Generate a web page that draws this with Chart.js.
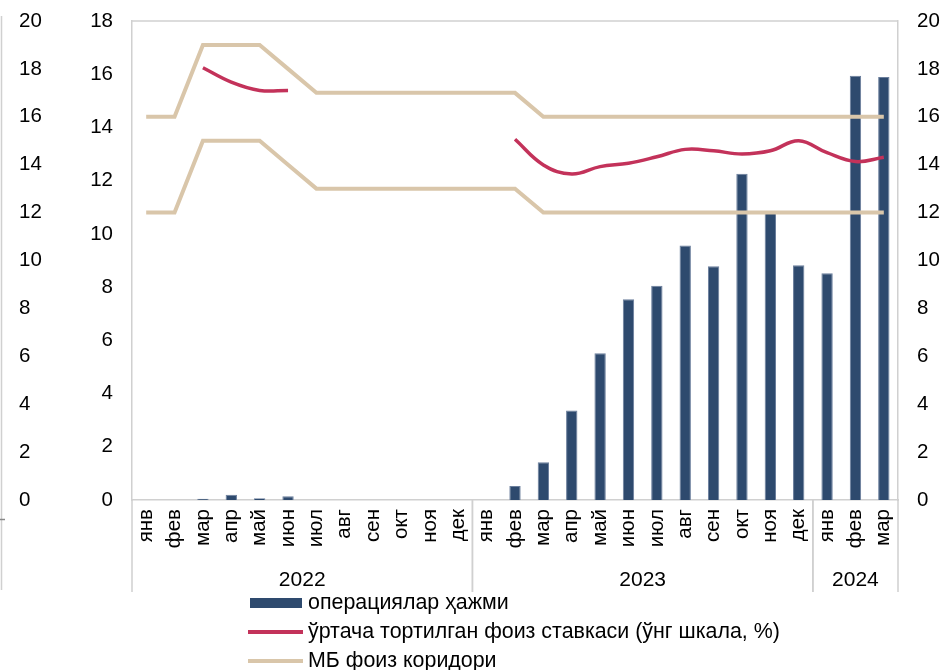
<!DOCTYPE html>
<html>
<head>
<meta charset="utf-8">
<script src="https://cdn.jsdelivr.net/npm/chart.js@4.4.1/dist/chart.umd.min.js"></script>
<style>
  body { margin: 0; background: #fff; font-family: 'Liberation Sans', Arial, sans-serif; }
  #wrap { position: relative; width: 944px; height: 670px; overflow: hidden; }
  #legend { position: absolute; left: 248px; top: 588px; }
  .item { display: flex; align-items: center; height: 29px; font-size: 21.4px; color: #000; white-space: nowrap; }
  .swatch { width: 55px; margin-right: 5px; }
</style>
</head>
<body>
<div id="wrap">
  <canvas id="chart"></canvas>
  <div id="legend">
    <div class="item"><span class="swatch" style="height:10px;background:#2e4a6e;width:52px;margin-left:2px;margin-right:6px"></span>операциялар ҳажми</div>
    <div class="item"><span class="swatch" style="height:4px;background:#c3325a"></span>ўртача тортилган фоиз ставкаси (ўнг шкала, %)</div>
    <div class="item"><span class="swatch" style="height:4px;background:#d9c6aa"></span>МБ фоиз коридори</div>
  </div>
</div>
<script>
const months = [
  'янв', 'фев', 'мар', 'апр', 'май', 'июн', 'июл', 'авг', 'сен', 'окт', 'ноя', 'дек',
  'янв', 'фев', 'мар', 'апр', 'май', 'июн', 'июл', 'авг', 'сен', 'окт', 'ноя', 'дек',
  'янв', 'фев', 'мар'
];
const years = ['2022', '2023', '2024'];
const yearMonths = [12, 12, 3];

// операциялар ҳажми (left scale)
const volume = [
  null, null, 0.05, 0.2, 0.07, 0.14, null, null, null, null, null, null,
  null, 0.53, 1.42, 3.36, 5.51, 7.54, 8.05, 9.56, 8.78, 12.26, 10.79, 8.82,
  8.52, 15.94, 15.9
];
// weighted average rate (right scale)
const avgRate = [
  null, null, 18.05, 17.45, 17.1, 17.1, null, null, null, null, null, null,
  null, 15.06, 13.99, 13.61, 13.92, 14.06, 14.33, 14.64, 14.58, 14.45, 14.58, 15.0,
  14.5, 14.13, 14.31
];
// corridor bounds (right scale)
const corridorHigh = [
  16, 16, 19, 19, 19, 18, 17, 17, 17, 17, 17, 17,
  17, 17, 16, 16, 16, 16, 16, 16, 16, 16, 16, 16,
  16, 16, 16
];
const corridorLow = [
  12, 12, 15, 15, 15, 14, 13, 13, 13, 13, 13, 13,
  13, 13, 12, 12, 12, 12, 12, 12, 12, 12, 12, 12,
  12, 12, 12
];

const FONT = "'Liberation Sans', Arial, sans-serif";
const frameColor = '#d0d0d0';
const tickFont = { family: FONT, size: 20.5 };

// fixed axis sizes so the plot box sits where the original does
const fixWidth = w => s => { s.width = w; s.paddingTop = 0; s.paddingBottom = 0; };

const decor = {
  id: 'decor',
  afterDraw(chart) {
    const { ctx, chartArea } = chart;
    const x = chart.scales.x;
    const step = x.getPixelForValue(1) - x.getPixelForValue(0);
    const edge = i => i < months.length ? x.getPixelForValue(i) - step / 2 : x.getPixelForValue(months.length - 1) + step / 2;
    const bottom = 592;

    ctx.save();
    ctx.strokeStyle = frameColor;
    ctx.lineWidth = 1.5;
    // top frame line
    ctx.beginPath();
    ctx.moveTo(chartArea.left, chartArea.top);
    ctx.lineTo(chartArea.right, chartArea.top);
    ctx.stroke();

    // year separators and labels
    ctx.fillStyle = '#000';
    ctx.font = '21px ' + FONT;
    ctx.textAlign = 'center';
    ctx.textBaseline = 'middle';
    let start = 0;
    years.forEach((yr, k) => {
      const end = start + yearMonths[k];
      const a = edge(start), b = edge(end);
      ctx.beginPath();
      ctx.moveTo(a, chartArea.bottom);
      ctx.lineTo(a, bottom);
      ctx.moveTo(b, chartArea.bottom);
      ctx.lineTo(b, bottom);
      ctx.stroke();
      ctx.fillText(yr, (a + b) / 2, 580);
      start = end;
    });

    // stray line at far left
    ctx.beginPath();
    ctx.moveTo(1.5, 16);
    ctx.lineTo(1.5, 590);
    ctx.stroke();
    ctx.strokeStyle = '#888';
    ctx.beginPath();
    ctx.moveTo(0, 519.5);
    ctx.lineTo(5, 519.5);
    ctx.stroke();
    ctx.restore();
  }
};

new Chart(document.getElementById('chart'), {
  data: {
    labels: months,
    datasets: [
      {
        type: 'bar',
        label: 'операциялар ҳажми',
        data: volume,
        yAxisID: 'y',
        backgroundColor: '#2e4a6e',
        borderColor: '#6a7e9c',
        borderWidth: 1,
        barPercentage: 0.4,
        categoryPercentage: 1,
        order: 3
      },
      {
        type: 'line',
        label: 'ўртача тортилган фоиз ставкаси (ўнг шкала, %)',
        data: avgRate,
        yAxisID: 'yR',
        borderColor: '#c3325a',
        borderWidth: 3.5,
        tension: 0.4,
        pointRadius: 0,
        spanGaps: false,
        order: 1
      },
      {
        type: 'line',
        label: 'МБ фоиз коридори',
        data: corridorHigh,
        yAxisID: 'yR',
        borderColor: '#d9c6aa',
        borderWidth: 4,
        tension: 0,
        pointRadius: 0,
        order: 2
      },
      {
        type: 'line',
        label: 'МБ фоиз коридори (қуйи)',
        data: corridorLow,
        yAxisID: 'yR',
        borderColor: '#d9c6aa',
        borderWidth: 4,
        tension: 0,
        pointRadius: 0,
        order: 2
      }
    ]
  },
  options: {
    responsive: true,
    maintainAspectRatio: false,
    animation: false,
    layout: { autoPadding: false, padding: { left: 19, top: 21, right: 0, bottom: 0 } },
    plugins: { legend: { display: false }, tooltip: { enabled: false } },
    scales: {
      x: {
        type: 'category',
        offset: true,
        grid: { display: false, drawTicks: false },
        border: { display: true, color: frameColor, width: 1.5 },
        ticks: { autoSkip: false, minRotation: 90, maxRotation: 90, padding: 9, color: '#000', font: tickFont },
        afterFit: s => { s.height = 170; }
      },
      y: {
        position: 'left',
        min: 0,
        max: 18,
        grid: { display: false, drawTicks: false },
        border: { display: true, color: frameColor, width: 1.5 },
        ticks: { stepSize: 2, padding: 19, color: '#000', font: tickFont },
        afterFit: fixWidth(63)
      },
      yOut: {
        position: 'left',
        weight: 1,
        min: 0,
        max: 20,
        grid: { display: false, drawTicks: false },
        border: { display: false },
        ticks: { stepSize: 2, crossAlign: 'far', color: '#000', font: tickFont },
        afterFit: fixWidth(50)
      },
      yR: {
        position: 'right',
        min: 0,
        max: 20,
        grid: { display: false, drawTicks: false },
        border: { display: true, color: frameColor, width: 1.5 },
        ticks: { stepSize: 2, padding: 19, color: '#000', font: tickFont },
        afterFit: fixWidth(46)
      }
    }
  },
  plugins: [decor]
});
</script>
</body>
</html>
